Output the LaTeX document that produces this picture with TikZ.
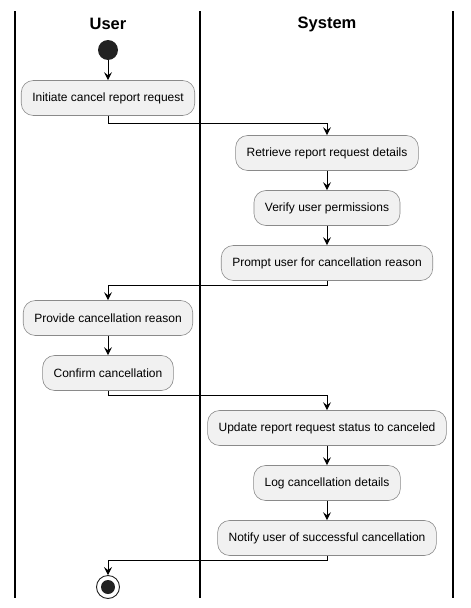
\documentclass[tikz,border=0pt]{standalone}
\usepackage{fontspec}
\setmainfont{Liberation Sans}
\usetikzlibrary{arrows.meta}
\definecolor{actfill}{HTML}{F1F1F1}
\definecolor{actline}{HTML}{8A8A8A}
\definecolor{dot}{HTML}{222222}
\tikzset{
  act/.style={draw=actline, fill=actfill, line width=0.6pt, rounded corners=12pt,
    minimum height=35pt, inner xsep=11pt, font=\fontsize{12}{14}\selectfont},
  flow/.style={line width=0.9pt, -{Stealth[length=8pt, width=8pt, inset=3pt]}},
  lane/.style={line width=1.4pt},
  title/.style={font=\fontsize{16.5}{20}\selectfont\bfseries}
}
\begin{document}
\begin{tikzpicture}[x=1pt, y=-1pt]
  \useasboundingbox (0, 0) rectangle (471, 608);
  \draw [lane] (15, 11) -- (15, 598);
  \draw [lane] (200, 11) -- (200, 598);
  \draw [lane] (453, 11) -- (453, 598);
  \node [title] (u) at (108, 24) {User};
  \node [title] (sy) at (327, 24) {System};
  \node [circle, fill=dot, minimum size=20pt, inner sep=0pt] (st) at (108, 50) {};
  \node [act] (a1) at (108, 98) {Initiate cancel report request};
  \node [act] (a2) at (327, 153) {Retrieve report request details};
  \node [act] (a3) at (327, 208) {Verify user permissions};
  \node [act] (a4) at (327, 263) {Prompt user for cancellation reason};
  \node [act] (a5) at (108, 318) {Provide cancellation reason};
  \node [act] (a6) at (108, 373) {Confirm cancellation};
  \node [act] (a7) at (327, 428) {Update report request status to canceled};
  \node [act] (a8) at (327, 483) {Log cancellation details};
  \node [act] (a9) at (327, 538) {Notify user of successful cancellation};
  \node [circle, draw=dot, line width=0.9pt, minimum size=23pt, inner sep=0pt] (en) at (108, 587) {};
  \node [circle, fill=dot, minimum size=14pt, inner sep=0pt] (en1) at (108, 587) {};
  \draw [flow] (st) -- (a1);
  \draw [flow] (a1.south) -- ++(0, 8) -| (a2.north);
  \draw [flow] (a2) -- (a3);
  \draw [flow] (a3) -- (a4);
  \draw [flow] (a4.south) -- ++(0, 5) -| (a5.north);
  \draw [flow] (a5) -- (a6);
  \draw [flow] (a6.south) -- ++(0, 5) -| (a7.north);
  \draw [flow] (a7) -- (a8);
  \draw [flow] (a8) -- (a9);
  \draw [flow] (a9.south) -- ++(0, 5) -| (en.north);
\end{tikzpicture}
\end{document}
